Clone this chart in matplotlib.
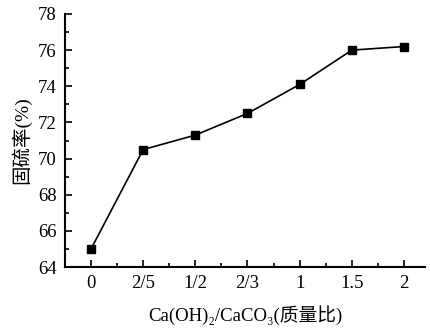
import numpy as np
import matplotlib.pyplot as plt
from matplotlib.ticker import MultipleLocator, FixedLocator

plt.rcParams['font.family'] = ['Liberation Serif', 'DejaVu Serif', 'Noto Sans CJK SC']

ratios = ['0', '2/5', '1/2', '2/3', '1', '1.5', '2']
capture = [65.0, 70.5, 71.3, 72.5, 74.1, 76.0, 76.2]

x = np.arange(len(ratios))

fig = plt.figure(figsize=(4.3, 3.33), dpi=100)
ax = fig.add_axes([0.151, 0.198, 0.837, 0.760])

ax.plot(x, capture, color='black', lw=1.2, marker='s', markersize=5.2)

ax.set_xlim(-0.5, 6.4)
ax.set_ylim(64, 78)
ax.set_xticks(x)
ax.set_xticklabels(ratios)
ax.xaxis.set_minor_locator(FixedLocator(x[:-1] + 0.5))
ax.yaxis.set_major_locator(MultipleLocator(2))
ax.yaxis.set_minor_locator(MultipleLocator(1))

for side in ['top', 'right']:
    ax.spines[side].set_visible(False)
for side in ['left', 'bottom']:
    ax.spines[side].set_linewidth(1.5)

ax.tick_params(which='both', direction='in', width=1.2, labelsize=13.5)
ax.tick_params(which='major', length=5, pad=6)
ax.tick_params(which='minor', length=3)

ax.set_xlabel('Ca(OH)₂/CaCO₃(质量比)', fontsize=13.5, labelpad=9)
ax.set_ylabel('固硫率(%)', fontsize=14, labelpad=5)

fig.savefig('out.png', dpi=100)
